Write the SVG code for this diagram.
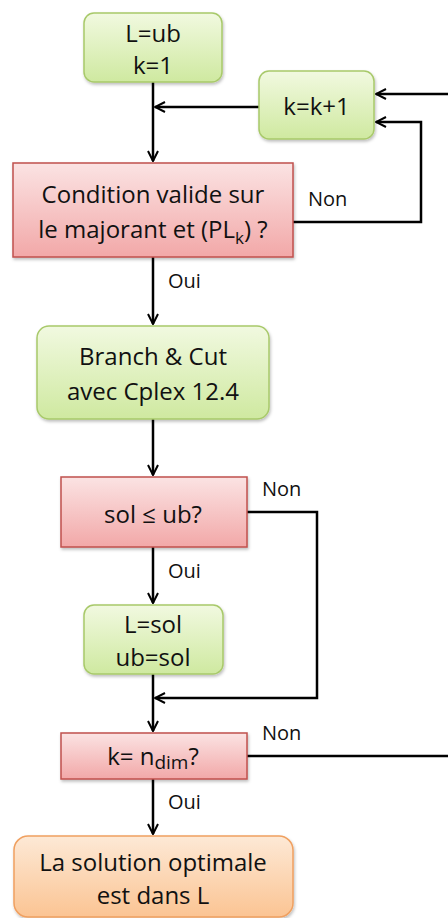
<svg xmlns="http://www.w3.org/2000/svg" width="448" height="918" viewBox="0 0 448 918">
<defs>
<linearGradient id="gG" x1="0" y1="0" x2="0" y2="1"><stop offset="0" stop-color="#f1f9e0"/><stop offset="1" stop-color="#cfe9a0"/></linearGradient>
<linearGradient id="gR" x1="0" y1="0" x2="0" y2="1"><stop offset="0" stop-color="#fbe3e3"/><stop offset="1" stop-color="#f2a8a8"/></linearGradient>
<linearGradient id="gO" x1="0" y1="0" x2="0" y2="1"><stop offset="0" stop-color="#fde9d6"/><stop offset="1" stop-color="#fbc493"/></linearGradient>
<filter id="sh" x="-10%" y="-10%" width="130%" height="140%"><feDropShadow dx="1" dy="2" stdDeviation="1.5" flood-color="#000" flood-opacity="0.25"/></filter>
<marker id="ar" viewBox="0 0 12 12" refX="11" refY="6" markerWidth="12" markerHeight="12" markerUnits="userSpaceOnUse" orient="auto"><path d="M1 1 L11 6 L1 11" fill="none" stroke="#000" stroke-width="2"/></marker>
</defs>
<style>
.g{fill:url(#gG);stroke:#a8c96a;stroke-width:1.5;filter:url(#sh)}
.r{fill:url(#gR);stroke:#c0504d;stroke-width:1.5;filter:url(#sh)}
.o{fill:url(#gO);stroke:#f0a060;stroke-width:1.5;filter:url(#sh)}
text{font-family:"Open Sans","Noto Sans","Liberation Sans",sans-serif;fill:#111;font-size:24px;text-anchor:middle}
.lb{font-size:20px;text-anchor:start}
.c{fill:none;stroke:#000;stroke-width:2.5}
</style>
<g id="connectors">
<path class="c" d="M153 82 V161" marker-end="url(#ar)"/>
<path class="c" d="M259 107 H155" marker-end="url(#ar)"/>
<path class="c" d="M293 222 H421 V122 H376" marker-end="url(#ar)"/>
<path class="c" d="M448 94 H376" marker-end="url(#ar)"/>
<path class="c" d="M153 257 V324" marker-end="url(#ar)"/>
<path class="c" d="M153 419 V475" marker-end="url(#ar)"/>
<path class="c" d="M153 547 V603" marker-end="url(#ar)"/>
<path class="c" d="M247 512 H317 V698 H155" marker-end="url(#ar)"/>
<path class="c" d="M153 674 V731" marker-end="url(#ar)"/>
<path class="c" d="M247 756 H448"/>
<path class="c" d="M153 779 V834" marker-end="url(#ar)"/>
<text class="lb" x="308" y="206">Non</text>
<text class="lb" x="168" y="288">Oui</text>
<text class="lb" x="262" y="496">Non</text>
<text class="lb" x="168" y="578">Oui</text>
<text class="lb" x="262" y="740">Non</text>
<text class="lb" x="168" y="809">Oui</text>
</g>
<g id="init"><rect class="g" x="84" y="13" width="138" height="69" rx="10"/><text x="153" y="42">L=ub</text><text x="153" y="74">k=1</text></g>
<g id="incr"><rect class="g" x="259" y="71" width="115" height="68" rx="10"/><text x="316.5" y="115">k=k+1</text></g>
<g id="cond"><rect class="r" x="13" y="163" width="280" height="94"/><text x="153" y="203">Condition valide sur</text><text x="153" y="238">le majorant et (PL<tspan font-size="17" dy="6">k</tspan><tspan dy="-6">) ?</tspan></text></g>
<g id="bc"><rect class="g" x="37" y="326" width="232" height="93" rx="12"/><text x="153" y="365">Branch &amp; Cut</text><text x="153" y="400">avec Cplex 12.4</text></g>
<g id="solub"><rect class="r" x="61" y="477" width="186" height="70"/><text x="153" y="523">sol ≤ ub?</text></g>
<g id="lsol"><rect class="g" x="84" y="605" width="139" height="69" rx="10"/><text x="153" y="633">L=sol</text><text x="153" y="666">ub=sol</text></g>
<g id="kn"><rect class="r" x="61" y="733" width="186" height="46"/><text x="153" y="765" font-size="27">k= n<tspan font-size="19" dy="4">dim</tspan><tspan dy="-4">?</tspan></text></g>
<g id="final"><rect class="o" x="14" y="836" width="279" height="81" rx="14"/><text x="153" y="871">La solution optimale</text><text x="153" y="904">est dans L</text></g>
</svg>
